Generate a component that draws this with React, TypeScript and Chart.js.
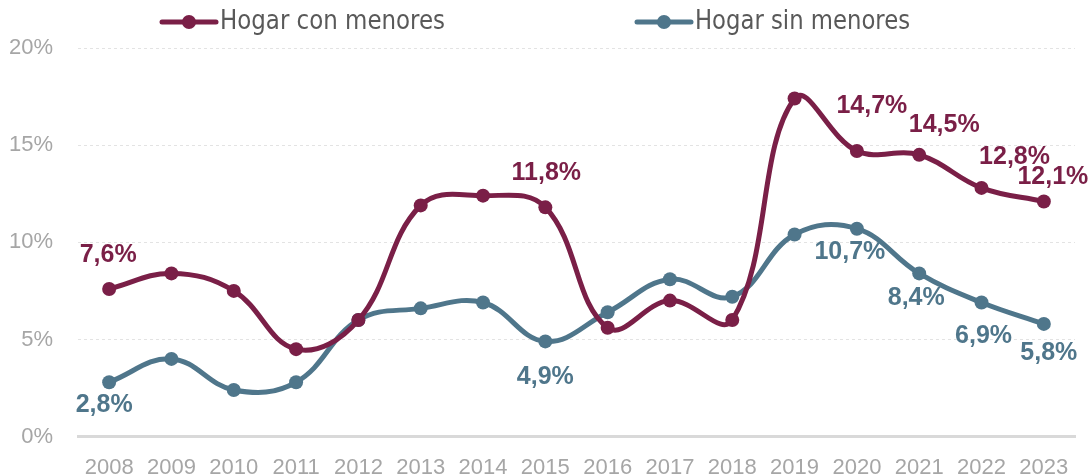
import React, { useEffect, useRef } from "react";
import { Chart, registerables } from "chart.js";

Chart.register(...registerables);

const years = ["2008", "2009", "2010", "2011", "2012", "2013", "2014", "2015", "2016", "2017", "2018", "2019", "2020", "2021", "2022", "2023"];
const conMenores = [7.6, 8.4, 7.5, 4.5, 6.0, 11.9, 12.4, 11.8, 5.6, 7.0, 6.0, 17.4, 14.7, 14.5, 12.8, 12.1];
const sinMenores = [2.8, 4.0, 2.4, 2.8, 6.0, 6.6, 6.9, 4.9, 6.4, 8.1, 7.2, 10.4, 10.7, 8.4, 6.9, 5.8];
const seriesNames = ["Hogar con menores", "Hogar sin menores"];
const yTicks = [0, 5, 10, 15, 20];

const COLORS = ["#7A1F47", "#4F768B"];

// which points carry a data label and where (styling only)
const labelShownCon = [true, false, false, false, false, false, false, true, false, false, false, false, true, true, true, true];
const labelShownSin = [true, false, false, false, false, false, false, true, false, false, false, false, true, true, true, true];
const labelOffCon: [number, number][] = [[-1, -34], [0, 0], [0, 0], [0, 0], [0, 0], [0, 0], [0, 0], [1, -34], [0, 0], [0, 0], [0, 0], [0, 0], [15, -45], [25, -30], [33, -31], [9, -24]];
const labelOffSin: [number, number][] = [[-5, 23], [0, 0], [0, 0], [0, 0], [0, 0], [0, 0], [0, 0], [0, 36], [0, 0], [0, 0], [0, 0], [0, 0], [-7, 23], [-3, 25], [2, 34], [5, 29]];

const fmt = (v: number) => v.toFixed(1).replace(".", ",") + "%";

const labelsPlugin = {
  id: "pointLabels",
  afterDatasetsDraw(chart: any) {
    const ctx = chart.ctx;
    const shown = [labelShownCon, labelShownSin];
    const offs = [labelOffCon, labelOffSin];
    ctx.save();
    ctx.font = "bold 25px 'Liberation Sans', Arial, sans-serif";
    ctx.textAlign = "center";
    ctx.textBaseline = "middle";
    chart.data.datasets.forEach((ds: any, di: number) => {
      const meta = chart.getDatasetMeta(di);
      ctx.fillStyle = COLORS[di];
      meta.data.forEach((pt: any, i: number) => {
        if (!shown[di][i]) return;
        const [dx, dy] = offs[di][i];
        ctx.fillText(fmt(ds.data[i]), pt.x + dx, pt.y + dy);
      });
    });
    ctx.restore();
  },
};

const legendPlugin = {
  id: "customLegend",
  afterDraw(chart: any) {
    const ctx = chart.ctx;
    const starts = [160, 635];
    const y = 22;
    ctx.save();
    chart.data.datasets.forEach((ds: any, di: number) => {
      const x0 = starts[di];
      ctx.strokeStyle = COLORS[di];
      ctx.lineWidth = 5;
      ctx.lineCap = "round";
      ctx.beginPath();
      ctx.moveTo(x0 + 2, y);
      ctx.lineTo(x0 + 56, y);
      ctx.stroke();
      ctx.fillStyle = COLORS[di];
      ctx.beginPath();
      ctx.arc(x0 + 29, y, 7, 0, Math.PI * 2);
      ctx.fill();
      ctx.font = "26px 'Liberation Sans Narrow', 'DejaVu Sans Condensed', 'Liberation Sans', sans-serif";
      ctx.fillStyle = "#595959";
      ctx.textBaseline = "middle";
      ctx.textAlign = "left";
      const text = ds.label;
      const w = ctx.measureText(text).width;
      const target = di === 0 ? 225 : 215;
      ctx.save();
      ctx.translate(x0 + 60, y);
      ctx.scale(target / w, 1);
      ctx.fillText(text, 0, 0);
      ctx.restore();
    });
    ctx.restore();
  },
};

export default function App() {
  const ref = useRef<HTMLCanvasElement | null>(null);
  useEffect(() => {
    if (!ref.current) return;
    const chart = new Chart(ref.current, {
      type: "line",
      data: {
        labels: years,
        datasets: [
          {
            label: seriesNames[0],
            data: conMenores,
            borderColor: COLORS[0],
            backgroundColor: COLORS[0],
            borderWidth: 5,
            pointRadius: 7,
            pointHoverRadius: 7,
            pointBorderWidth: 0,
            tension: 0.4,
          },
          {
            label: seriesNames[1],
            data: sinMenores,
            borderColor: COLORS[1],
            backgroundColor: COLORS[1],
            borderWidth: 5,
            pointRadius: 7,
            pointHoverRadius: 7,
            pointBorderWidth: 0,
            tension: 0.4,
          },
        ],
      },
      options: {
        animation: false,
        responsive: false,
        maintainAspectRatio: false,
        layout: { padding: { top: 48, right: 16, left: 0, bottom: 0 } },
        plugins: {
          legend: { display: false },
          tooltip: { enabled: false },
        },
        scales: {
          x: {
            offset: true,
            grid: { display: false },
            border: { display: true, color: "#d9d9d9", width: 3 },
            ticks: {
              color: "#a6a6a6",
              font: { size: 22, family: "'Liberation Sans', Arial, sans-serif" },
              padding: 10,
              maxRotation: 0,
              autoSkip: false,
            },
          },
          y: {
            min: 0,
            max: 20,
            afterBuildTicks: (axis: any) => {
              axis.ticks = yTicks.map((v) => ({ value: v }));
            },
            afterFit: (axis: any) => {
              axis.width = 78;
            },
            grid: {
              color: (c: any) => (c.tick && c.tick.value === 0 ? "rgba(0,0,0,0)" : "#e3e3e3"),
              lineWidth: 1,
              drawTicks: false,
            },
            border: { display: false, dash: [3, 3] },
            ticks: {
              color: "#a6a6a6",
              font: { size: 22, family: "'Liberation Sans', Arial, sans-serif" },
              padding: 25,
              callback: (v: any) => v + "%",
            },
          },
        },
      },
      plugins: [labelsPlugin, legendPlugin],
    });
    return () => chart.destroy();
  }, []);
  return (
    <div style={{ position: "absolute", left: 0, top: 0, width: 1091, height: 476, overflow: "hidden", background: "#fff" }}>
      <canvas ref={ref} width={1091} height={491} style={{ display: "block" }} />
    </div>
  );
}
